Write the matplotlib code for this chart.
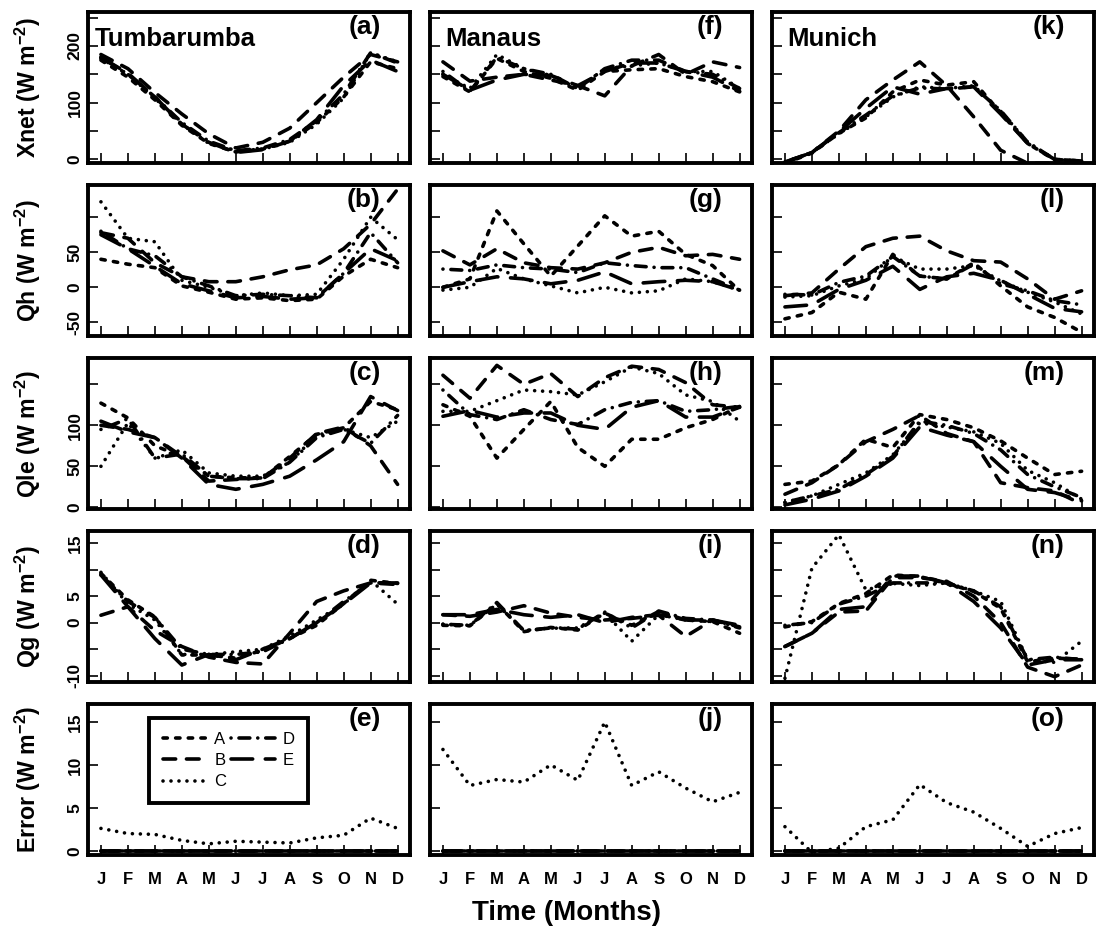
import numpy as np
import matplotlib.pyplot as plt

plt.rcParams['font.family'] = ['Liberation Sans', 'DejaVu Sans']
plt.rcParams['font.weight'] = 'bold'
plt.rcParams['axes.unicode_minus'] = False
plt.rcParams['mathtext.fontset'] = 'custom'
plt.rcParams['mathtext.rm'] = 'Liberation Sans'
plt.rcParams['mathtext.default'] = 'regular'

months = ['J', 'F', 'M', 'A', 'M', 'J', 'J', 'A', 'S', 'O', 'N', 'D']
models = ['A', 'B', 'C', 'D', 'E']
sites = ['Tumbarumba', 'Manaus', 'Munich']

# monthly means per site, one list per model (W m-2)
xnet_tumbarumba = {
    'A': [175, 145, 105, 60, 28, 13, 18, 32, 65, 110, 172, 160],
    'B': [185, 160, 118, 80, 45, 20, 30, 55, 100, 145, 185, 172],
    'C': [178, 150, 108, 62, 28, 15, 18, 30, 62, 108, 188, 172],
    'D': [180, 150, 110, 65, 32, 15, 20, 35, 68, 115, 188, 170],
    'E': [180, 152, 110, 62, 30, 12, 17, 32, 70, 130, 175, 155],
}
xnet_manaus = {
    'A': [146, 119, 178, 155, 143, 122, 155, 158, 160, 146, 137, 119],
    'B': [172, 138, 145, 150, 140, 130, 112, 165, 185, 150, 172, 162],
    'C': [150, 125, 185, 160, 148, 125, 160, 165, 170, 155, 155, 125],
    'D': [155, 120, 180, 160, 150, 125, 160, 175, 175, 155, 150, 125],
    'E': [150, 122, 140, 150, 148, 130, 155, 170, 170, 155, 145, 120],
}
xnet_munich = {
    'A': [-7, 11, 46, 73, 119, 140, 131, 137, 82, 28, -1, -4],
    'B': [-5, 12, 50, 105, 140, 172, 130, 75, 16, -7, -7, -7],
    'C': [-5, 12, 45, 75, 110, 128, 125, 130, 85, 30, 0, -3],
    'D': [-5, 12, 47, 78, 112, 126, 124, 128, 86, 30, 0, -3],
    'E': [-5, 12, 48, 90, 128, 115, 125, 128, 80, 28, 0, -3],
}

qh_tumbarumba = {
    'A': [40, 33, 28, 2, -7, -17, -15, -19, -17, 16, 40, 28],
    'B': [78, 70, 35, 15, 8, 8, 15, 25, 32, 55, 90, 140],
    'C': [122, 70, 65, 10, 0, -12, -8, -12, -10, 40, 100, 68],
    'D': [80, 55, 45, 15, 2, -12, -10, -12, -15, 20, 78, 35],
    'E': [75, 55, 30, 5, -5, -15, -13, -17, -15, 20, 55, 38],
}
qh_manaus = {
    'A': [0, 12, 109, 62, 16, 59, 102, 73, 80, 47, 31, -5],
    'B': [52, 32, 55, 35, 28, 26, 35, 50, 57, 45, 47, 40],
    'C': [-4, 0, 27, 12, 2, -8, 0, -8, -5, 12, 8, -4],
    'D': [26, 24, 32, 28, 26, 21, 35, 31, 28, 28, 12, -4],
    'E': [0, 8, 15, 12, 5, 10, 22, 5, 8, 10, 8, -4],
}
qh_munich = {
    'A': [-45, -36, -7, -17, 47, 16, 12, 35, 2, -28, -43, -64],
    'B': [-12, -8, 26, 58, 70, 73, 52, 38, 36, 12, -17, -5],
    'C': [-14, -12, 2, 12, 44, 26, 26, 31, 9, -7, -21, -38],
    'D': [-10, -11, 7, 16, 44, 16, 12, 33, 5, -5, -19, -25],
    'E': [-28, -25, -3, 10, 30, -3, 15, 20, 10, -10, -30, -35],
}

qle_tumbarumba = {
    'A': [127, 109, 75, 62, 38, 36, 36, 62, 89, 97, 129, 119],
    'B': [100, 95, 85, 62, 32, 34, 36, 60, 90, 98, 75, 28],
    'C': [50, 103, 60, 70, 42, 38, 38, 55, 88, 95, 85, 105],
    'D': [95, 108, 60, 65, 38, 35, 35, 55, 85, 95, 78, 112],
    'E': [105, 92, 85, 60, 28, 22, 28, 38, 58, 80, 135, 118],
}
qle_manaus = {
    'A': [125, 111, 60, 95, 129, 73, 50, 83, 83, 97, 107, 123],
    'B': [161, 133, 173, 150, 163, 135, 158, 172, 168, 152, 125, 122],
    'C': [117, 117, 130, 143, 141, 137, 153, 171, 163, 137, 129, 105],
    'D': [143, 113, 107, 119, 107, 101, 119, 128, 130, 117, 119, 123],
    'E': [111, 118, 110, 115, 115, 100, 95, 122, 130, 110, 110, 122],
}
qle_munich = {
    'A': [28, 32, 52, 83, 73, 113, 107, 97, 81, 60, 40, 44],
    'B': [16, 30, 52, 80, 95, 112, 90, 80, 30, 24, 20, 4],
    'C': [6, 14, 28, 42, 64, 103, 98, 92, 78, 45, 30, 10],
    'D': [6, 14, 22, 40, 62, 105, 100, 90, 70, 40, 25, 12],
    'E': [3, 10, 20, 38, 60, 98, 88, 80, 50, 22, 18, 8],
}

qg_tumbarumba = {
    'A': [9.3, 4.3, 1.1, -6.1, -6.1, -6.7, -5.2, -3.0, -0.5, 3.6, 8.0, 7.4],
    'B': [1.4, 3.0, -1.5, -4.5, -6.5, -7.5, -7.8, -2.0, 4.0, 6.0, 7.5, 7.2],
    'C': [9.5, 3.5, 0.5, -6.0, -6.0, -5.5, -5.0, -2.5, 0.5, 3.5, 8.0, 3.5],
    'D': [9.0, 4.0, 1.0, -5.0, -6.0, -6.0, -5.5, -3.0, 0.0, 4.0, 7.5, 7.5],
    'E': [9.0, 3.0, -3.0, -8.0, -6.0, -7.0, -5.0, -3.0, 0.0, 3.5, 7.5, 7.5],
}
qg_manaus = {
    'A': [-0.5, -0.6, 3.6, -1.7, -0.9, -1.4, 1.8, -0.5, 2.1, 0.5, 0.2, -2.0],
    'B': [1.5, 1.2, 2.0, 3.2, 1.8, 1.0, 0.5, 0.8, 1.4, -2.6, 0.5, -0.8],
    'C': [-0.3, -0.5, 3.5, -1.5, -1.0, -1.0, 1.8, -3.5, 1.5, 0.5, 0.2, -0.5],
    'D': [-0.3, -0.5, 3.8, -1.5, -1.0, -1.2, 2.0, -1.0, 2.2, 0.8, 0.5, -1.0],
    'E': [1.5, 1.5, 2.5, 1.5, 1.0, 1.5, 0.0, 1.0, 1.5, 0.5, 0.5, -0.5],
}
qg_munich = {
    'A': [-0.8, 0.2, 3.6, 5.5, 9.0, 8.7, 7.4, 5.9, 2.7, -7.4, -6.7, -6.9],
    'B': [-4.5, -2.0, 2.0, 2.2, 8.5, 8.5, 7.8, 5.0, 0.0, -8.4, -10.2, -8.0],
    'C': [-10.5, 10.3, 16.6, 6.2, 7.4, 7.0, 7.5, 6.0, 4.0, -7.0, -7.5, -3.5],
    'D': [-0.5, 0.0, 3.5, 5.0, 7.5, 7.5, 7.5, 6.0, 3.0, -7.0, -6.5, -7.0],
    'E': [-4.5, -2.0, 2.5, 3.0, 8.8, 8.8, 7.5, 4.0, -1.0, -8.0, -7.0, -7.0],
}

no_error = [0, 0, 0, 0, 0, 0, 0, 0, 0, 0, 0, 0]
err_tumbarumba = {
    'A': no_error, 'B': no_error, 'D': no_error, 'E': no_error,
    'C': [2.6, 2.0, 1.9, 1.2, 0.8, 1.1, 1.0, 0.9, 1.5, 1.8, 3.8, 2.6],
}
err_manaus = {
    'A': no_error, 'B': no_error, 'D': no_error, 'E': no_error,
    'C': [11.8, 7.6, 8.3, 8.0, 10.0, 8.2, 15.0, 7.6, 9.2, 7.3, 5.7, 6.8],
}
err_munich = {
    'A': no_error, 'B': no_error, 'D': no_error, 'E': no_error,
    'C': [2.8, -0.2, 0.3, 2.8, 3.6, 7.7, 5.6, 4.5, 2.6, 0.5, 2.0, 2.7],
}

rows = [
    [xnet_tumbarumba, xnet_manaus, xnet_munich],
    [qh_tumbarumba, qh_manaus, qh_munich],
    [qle_tumbarumba, qle_manaus, qle_munich],
    [qg_tumbarumba, qg_manaus, qg_munich],
    [err_tumbarumba, err_manaus, err_munich],
]
row_names = ['Xnet', 'Qh', 'Qle', 'Qg', 'Error']
ylims = [(-6.5, 260), (-69.5, 146), (-2, 182), (-11.2, 17.3), (-0.5, 17.1)]
yticks = [
    ([0, 50, 100, 150, 200, 250], ['0', '', '100', '', '200', '']),
    ([-50, 0, 50, 100], ['-50', '0', '50', '']),
    ([0, 50, 100, 150], ['0', '50', '100', '']),
    ([-10, -5, 0, 5, 10, 15], ['-10', '', '0', '5', '', '15']),
    ([0, 5, 10, 15], ['0', '5', '10', '15']),
]

# R-like line types, round caps
styles = {
    'A': (0, (1.2, 2.3)),
    'B': (0, (3.5, 3.0)),
    'C': (0, (0.01, 2.2)),
    'D': (0, (0.01, 2.2, 3.0, 2.2)),
    'E': (0, (6.0, 3.5)),
}

W, H = 1096, 934
fig = plt.figure(figsize=(W / 100, H / 100), dpi=100)

lefts = [88, 430, 772]
tops = [12, 185, 358, 531, 704]
aw, ah = 322, 151
x = np.arange(1, 13)
letters = 'abcdefghijklmno'

for r in range(5):
    for c in range(3):
        ax = fig.add_axes([lefts[c] / W, 1 - (tops[r] + ah) / H, aw / W, ah / H])
        data = rows[r][c]
        for m in models:
            ax.plot(x, data[m], color='black', lw=2.6, linestyle=styles[m],
                    dash_capstyle='round', solid_capstyle='round', label=m)
        ax.set_xlim(0.52, 12.46)
        ax.set_ylim(*ylims[r])
        ax.set_xticks(x)
        ax.set_yticks(yticks[r][0])
        for s in ax.spines.values():
            s.set_linewidth(2.8)
        ax.tick_params(direction='in', length=7, width=1.2)
        if r == 4:
            ax.set_xticklabels(months, fontsize=12, fontweight='bold')
            ax.tick_params(axis='x', pad=12)
        else:
            ax.set_xticklabels([])
        if c == 0:
            ax.set_yticklabels(yticks[r][1], fontsize=12.5, fontweight='bold',
                               rotation=90, va='center')
            ax.tick_params(axis='y', pad=4)
            fig.text(28 / W, 1 - (tops[r] + ah / 2) / H,
                     row_names[r] + ' (W m$^{-2}$)', rotation=90,
                     ha='center', va='center', fontsize=16.7, fontweight='bold')
        else:
            ax.set_yticklabels([])
        ax.annotate('(' + letters[c * 5 + r] + ')', xy=(1, 1), xycoords='axes fraction',
                    xytext=(-21, -2), textcoords='offset points',
                    ha='right', va='top', fontsize=19, fontweight='bold')
        if r == 0:
            ax.annotate(sites[c], xy=(0, 1), xycoords='axes fraction',
                        xytext=(5 if c == 0 else 11, -11), textcoords='offset points',
                        ha='left', va='top', fontsize=18.5, fontweight='bold')
        if r == 4 and c == 0:
            leg = ax.legend(ncol=2, loc='upper left', bbox_to_anchor=(0.19, 0.905),
                            prop={'size': 12, 'weight': 'normal'}, handlelength=2.6,
                            columnspacing=0.3, handletextpad=0.5, labelspacing=0.38,
                            fancybox=False, framealpha=1, edgecolor='black',
                            borderpad=0.8, borderaxespad=0)
            leg.get_frame().set_linewidth(2.8)

fig.text(566 / W, 1 - 913 / H, 'Time (Months)', ha='center', va='center',
         fontsize=20, fontweight='bold')

fig.savefig('out.png', dpi=100)
